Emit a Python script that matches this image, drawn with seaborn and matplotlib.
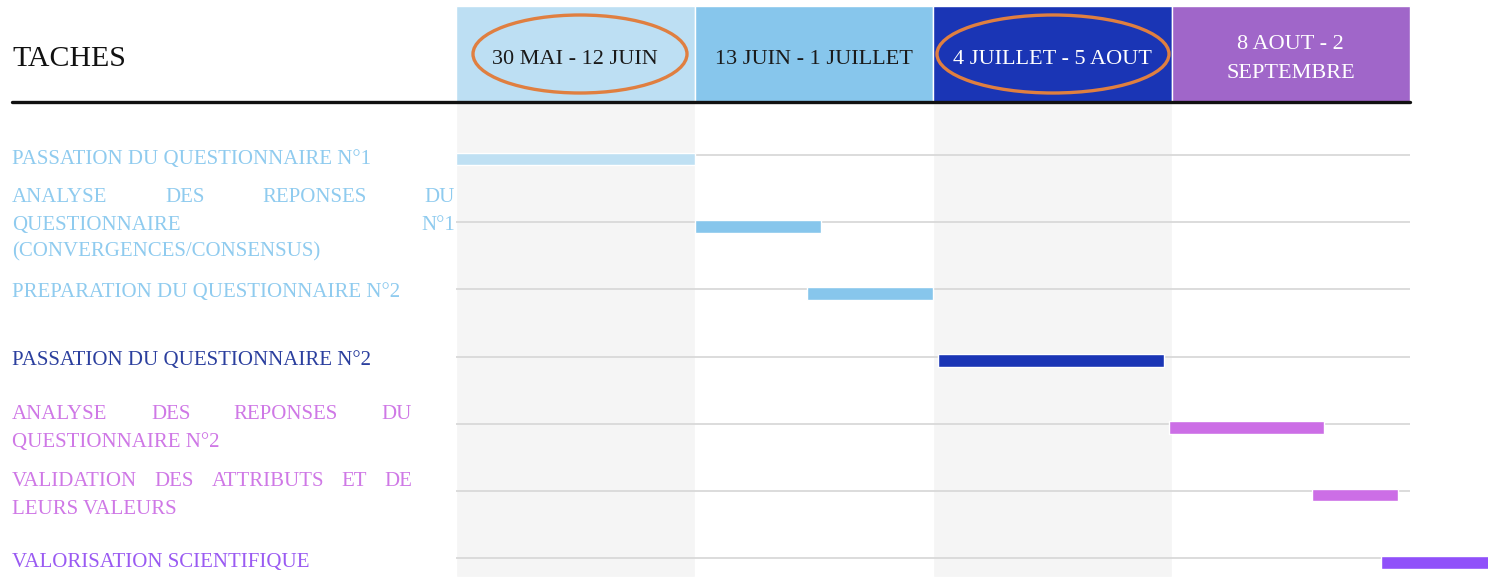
import pandas as pd
import matplotlib.pyplot as plt
import seaborn as sns
from matplotlib.patches import Ellipse

#Data--------------
periods = ["30 MAI - 12 JUIN", "13 JUIN - 1 JUILLET", "4 JUILLET - 5 AOUT", "8 AOUT - 2\nSEPTEMBRE"]
period_colors = ["#bddff3", "#87c6ec", "#1a35b5", "#a066c9"]
period_text = ["#1a1a1a", "#1a1a1a", "white", "white"]

tasks = ["PASSATION DU QUESTIONNAIRE N°1",
         "ANALYSE DES REPONSES DU QUESTIONNAIRE N°1 (CONVERGENCES/CONSENSUS)",
         "PREPARATION DU QUESTIONNAIRE N°2",
         "PASSATION DU QUESTIONNAIRE N°2",
         "ANALYSE DES REPONSES DU QUESTIONNAIRE N°2",
         "VALIDATION DES ATTRIBUTS ET DE LEURS VALEURS",
         "VALORISATION SCIENTIFIQUE"]
# start / end in period units (1 unit = one header column)
start = [0.0, 1.0, 1.47, 2.02, 2.99, 3.59, 3.88]
end = [1.0, 1.53, 2.0, 2.97, 3.64, 3.95, 4.5]
bar_colors = ["#bfe0f3", "#87c6ec", "#87c6ec", "#1a35b5", "#cc6ee6", "#cc6ee6", "#9050fa"]
label_colors = ["#8fcbef", "#8fcbef", "#8fcbef", "#2b3f9e", "#cf78e6", "#cf78e6", "#9a5af2"]

df = pd.DataFrame({"task": tasks, "start": start, "end": end,
                   "bar": bar_colors, "label": label_colors})
df["row"] = range(len(df))

#Layout helpers (pixel -> data)
COL = 238.5
ROW = 67.2
def px(x):
    return (x - 456) / COL
def py(y):
    return (y - 155) / ROW

sns.set_style("white")
plt.rcParams['font.family'] = ['Liberation Serif', 'DejaVu Serif']
FS = 15

fig = plt.figure(figsize=(14.88, 5.77), dpi=100)
ax = fig.add_axes([0, 0, 1, 1])
ax.set_xlim(px(0), px(1488))
ax.set_ylim(py(577), py(0))
ax.axis('off')

#Shaded columns
for i in range(len(periods)):
    if i % 2 == 0:
        ax.bar(i + 0.5, py(577) - py(102), bottom=py(102), width=1,
               color="#f5f5f5", zorder=0)

#Header cells
head_top, head_bot = py(6), py(102)
for i, (p, c, tc) in enumerate(zip(periods, period_colors, period_text)):
    ax.bar(i + 0.5, head_bot - head_top, bottom=head_top, width=1, color=c,
           edgecolor="white", linewidth=1, zorder=1)
    ax.text(i + 0.5, py(59), p, ha="center", va="center", color=tc,
            fontsize=16, linespacing=1.75, zorder=3)

# orange circles drawn on the first and third period
for cx, w in [(580, 214), (1053, 232)]:
    ax.add_patch(Ellipse((px(cx), py(54)), width=w / COL, height=78 / ROW,
                         fill=False, edgecolor="#e07f40", linewidth=2.4, zorder=4))

ax.text(px(12), py(59), "TACHES", fontsize=21.5, color="#111111", va="center")
ax.plot([px(12), 4], [head_bot, head_bot], color="#111111", lw=2.4, zorder=5)

#Grid lines and bars
ax.hlines(df["row"], 0, 4, color="#d6d6d6", lw=1.2, zorder=1)
ax.barh(df["row"] + 0.06, df["end"] - df["start"], left=df["start"],
        height=0.19, color=df["bar"], zorder=2)

#Task labels (justified like the source document)
renderer = fig.canvas.get_renderer()
def justify(words, y, x0, x1, color):
    arts = [ax.text(px(x0), py(y + 2), w, fontsize=FS, color=color, va="center")
            for w in words]
    widths = [a.get_window_extent(renderer).width for a in arts]
    gap = ((x1 - x0) - sum(widths)) / max(len(words) - 1, 1)
    x = x0
    for a, w in zip(arts, widths):
        a.set_x(px(x))
        x += w + gap

def plain(txt, y, color):
    ax.text(px(12), py(y + 2), txt, fontsize=FS, color=color, va="center")

lc = df["label"]
plain(tasks[0], 157, lc[0])
justify(["ANALYSE", "DES", "REPONSES", "DU"], 195, 12, 455, lc[1])
justify(["QUESTIONNAIRE", "N°1"], 223, 12, 455, lc[1])
plain("(CONVERGENCES/CONSENSUS)", 250, lc[1])
plain(tasks[2], 290, lc[2])
plain(tasks[3], 358, lc[3])
justify(["ANALYSE", "DES", "REPONSES", "DU"], 412, 12, 412, lc[4])
plain("QUESTIONNAIRE N°2", 440, lc[4])
justify(["VALIDATION", "DES", "ATTRIBUTS", "ET", "DE"], 480, 12, 412, lc[5])
plain("LEURS VALEURS", 508, lc[5])
plain(tasks[6], 560, lc[6])

fig.savefig("out.png", dpi=100)
